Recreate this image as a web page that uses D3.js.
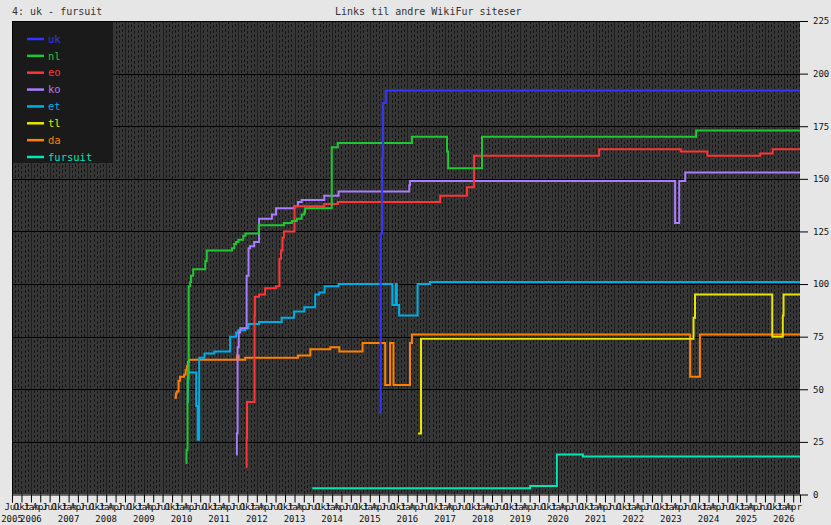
<!DOCTYPE html>
<html>
<head>
<meta charset="utf-8">
<script src="https://cdn.jsdelivr.net/npm/d3@7"></script>
<style>
  html, body { margin: 0; padding: 0; background: #e6e6e6; }
  svg { display: block; font-family: "DejaVu Sans Mono", monospace; }
</style>
</head>
<body>
<svg id="chart" width="831" height="525"></svg>
<script>
// ---------- data (decimal years, values) ----------
const seriesNames = ["uk", "nl", "eo", "ko", "et", "tl", "da", "fursuit"];
const seriesColors = ["#3434ff", "#1ec832", "#ff3434", "#aa7cff", "#00aee6", "#e6e600", "#ff8000", "#00e6b4"];

const ukYears = [2015.248, 2015.288, 2015.327, 2015.354, 2015.426];
const ukValues = [39, 124, 160, 186, 192];

const nlYears = [2010.11, 2010.13, 2010.16, 2010.19, 2010.23, 2010.25, 2010.31, 2010.63, 2010.67, 2011.34, 2011.40, 2011.45, 2011.51, 2011.64, 2011.70, 2012.05, 2012.72, 2012.93, 2013.06, 2013.19, 2013.26, 2013.28, 2013.99, 2014.15, 2016.12, 2017.05, 2017.08, 2017.98, 2023.67];
const nlValues = [15, 21, 55, 99, 101, 104, 107, 111, 116, 117, 119, 120, 121, 123, 124, 128, 129, 130, 131, 133, 134, 136, 165, 167, 170, 163, 155, 170, 173];

const eoYears = [2011.71, 2011.73, 2011.74, 2011.94, 2011.95, 2012.06, 2012.22, 2012.51, 2012.60, 2012.64, 2012.68, 2012.72, 2013.00, 2013.79, 2014.15, 2016.87, 2017.58, 2017.77, 2021.09, 2023.26, 2023.97, 2025.37, 2025.70];
const eoValues = [13, 27, 44, 85, 94, 95, 98, 99, 112, 116, 122, 125, 137, 138, 139, 142, 146, 161, 164, 163, 161, 162, 164];

const koYears = [2011.45, 2011.47, 2011.49, 2011.52, 2011.56, 2011.73, 2011.78, 2011.82, 2011.93, 2012.06, 2012.40, 2012.51, 2013.00, 2013.09, 2013.19, 2013.79, 2014.17, 2016.05, 2016.07, 2023.11, 2023.22, 2023.38];
const koValues = [19, 29, 70, 77, 79, 104, 117, 118, 120, 131, 133, 136, 137, 139, 140, 142, 144, 147, 149, 129, 149, 153];

const etYears = [2010.14, 2010.17, 2010.39, 2010.43, 2010.47, 2010.61, 2010.87, 2011.29, 2011.45, 2011.51, 2011.69, 2011.78, 2012.06, 2012.66, 2012.99, 2013.26, 2013.55, 2013.66, 2013.80, 2014.17, 2015.60, 2015.69, 2015.72, 2015.78, 2016.27, 2016.60];
const etValues = [44, 58, 42, 26, 65, 67, 68, 75, 77, 78, 79, 81, 82, 84, 87, 89, 95, 96, 99, 100, 90, 100, 90, 85, 100, 101];

const tlYears = [2016.28, 2016.36, 2023.60, 2023.64, 2025.69, 2025.97, 2025.99];
const tlValues = [29, 74, 84, 95, 75, 85, 95];

const daYears = [2009.81, 2009.85, 2009.87, 2009.92, 2009.96, 2010.07, 2010.11, 2010.14, 2010.17, 2010.20, 2011.47, 2011.52, 2011.69, 2013.09, 2013.42, 2013.95, 2014.19, 2014.81, 2015.41, 2015.54, 2015.63, 2016.07, 2016.12, 2023.51, 2023.77];
const daValues = [46, 48, 49, 54, 56, 57, 59, 61, 63, 64, 66, 64, 65, 66, 69, 70, 68, 72, 52, 72, 52, 72, 76, 56, 76];

const fursuitYears = [2013.47, 2019.26, 2019.97, 2020.66];
const fursuitValues = [3, 4, 19, 18];

const yTicks = [0, 25, 50, 75, 100, 125, 150, 175, 200, 225];
const monthNames = ["Jan", "Feb", "Mar", "Apr", "Mai", "Jun", "Jul", "Aug", "Sep", "Okt", "Nov", "Des"];
const yearLabels = [2005, 2006, 2007, 2008, 2009, 2010, 2011, 2012, 2013, 2014, 2015, 2016, 2017, 2018, 2019, 2020, 2021, 2022, 2023, 2024, 2025, 2026];
const domainStart = "2005-07-01";
const domainEnd = "2026-06-06";
const chartTitle = "Links til andre WikiFur siteser";
const cornerTitle = "4: uk - fursuit";

// ---------- helpers ----------
function fromDecimal(v) {
  const y = Math.floor(v);
  const s = new Date(y, 0, 1), e = new Date(y + 1, 0, 1);
  return new Date(+s + (v - y) * (e - s));
}
function parseDay(s) { const p = s.split("-").map(Number); return new Date(p[0], p[1] - 1, p[2]); }

const allYears = [ukYears, nlYears, eoYears, koYears, etYears, tlYears, daYears, fursuitYears];
const allValues = [ukValues, nlValues, eoValues, koValues, etValues, tlValues, daValues, fursuitValues];

// ---------- layout ----------
const L = 12, R = 800, T = 21, B = 494.5;
const svg = d3.select("#chart");
const x = d3.scaleTime().domain([parseDay(domainStart), parseDay(domainEnd)]).range([L, R]);
const y = d3.scaleLinear().domain([0, 225]).range([B, T]);

svg.append("rect").attr("width", 831).attr("height", 525).attr("fill", "#e6e6e6");

// plot background
svg.append("defs").append("clipPath").attr("id", "clip")
  .append("rect").attr("x", L).attr("y", T).attr("width", R - L).attr("height", B - T);

const plot = svg.append("g").attr("clip-path", "url(#clip)");
plot.append("rect").attr("x", L).attr("y", T).attr("width", R - L).attr("height", B - T).attr("fill", "#363636");

// textured monthly dashed verticals
const months = d3.timeMonth.range(x.domain()[0], x.domain()[1]);
plot.selectAll("line.mgrid").data(months).join("line")
  .attr("class", "mgrid")
  .attr("x1", d => Math.round(x(d)) + 0.5).attr("x2", d => Math.round(x(d)) + 0.5)
  .attr("y1", T).attr("y2", B)
  .attr("stroke", d => (d.getMonth() % 6 === 0) ? "#1e1e1e" : "#161616")
  .attr("stroke-width", 1)
  .attr("stroke-dasharray", d => (d.getMonth() % 6 === 0) ? null : "3,2")
  .attr("stroke-dashoffset", (d, i) => (i % 3));

// horizontal grid
plot.selectAll("line.hgrid").data(yTicks).join("line")
  .attr("class", "hgrid")
  .attr("x1", L).attr("x2", R)
  .attr("y1", d => Math.round(y(d)) + 0.5).attr("y2", d => Math.round(y(d)) + 0.5)
  .attr("stroke", "#000").attr("stroke-width", 1.2);

// top/left border
svg.append("line").attr("x1", L).attr("x2", R).attr("y1", T + 0.5).attr("y2", T + 0.5).attr("stroke", "#000");
svg.append("line").attr("x1", L + 0.5).attr("x2", L + 0.5).attr("y1", T).attr("y2", B).attr("stroke", "#000");

// series lines (reverse order so first legend item is on top)
const line = d3.line().curve(d3.curveStepAfter).x(d => x(d[0])).y(d => y(d[1]));
const endDate = x.domain()[1];
for (let i = seriesNames.length - 1; i >= 0; i--) {
  const pts = allYears[i].map((t, j) => [fromDecimal(t), allValues[i][j]]);
  pts.push([endDate, allValues[i][allValues[i].length - 1]]);
  plot.append("path").datum(pts)
    .attr("d", line)
    .attr("fill", "none")
    .attr("stroke", seriesColors[i])
    .attr("stroke-width", 2);
}

// legend
const lg = svg.append("g");
lg.append("rect").attr("x", L + 1).attr("y", T + 1).attr("width", 100).attr("height", 141).attr("fill", "#1a1a1a");
const ly = d3.scalePoint().domain(seriesNames).range([39, 157]);
seriesNames.forEach((n, i) => {
  lg.append("line").attr("x1", 27).attr("x2", 44).attr("y1", ly(n)).attr("y2", ly(n))
    .attr("stroke", seriesColors[i]).attr("stroke-width", 2.5);
  lg.append("text").attr("x", 48).attr("y", ly(n)).attr("dy", "0.35em")
    .attr("fill", seriesColors[i]).attr("font-size", 10.5).text(n);
});

// y axis (right)
const yAxis = svg.append("g").attr("transform", `translate(${R},0)`)
  .call(d3.axisRight(y).tickValues(yTicks).tickSize(8).tickPadding(5));
yAxis.select(".domain").remove();
yAxis.selectAll("line").attr("stroke", "#000");
yAxis.selectAll("text").attr("font-size", 9).attr("fill", "#111").attr("font-family", "DejaVu Sans Mono");

// x axis: quarterly month ticks
const xAxis = svg.append("g").attr("transform", `translate(0,${B})`)
  .call(d3.axisBottom(x).ticks(d3.timeMonth.every(3)).tickSize(8).tickPadding(1)
    .tickFormat(d => monthNames[d.getMonth()]));
xAxis.select(".domain").attr("stroke", "#000");
xAxis.selectAll("line").attr("stroke", "#000");
xAxis.selectAll("text").attr("font-size", 9).attr("fill", "#111").attr("font-family", "DejaVu Sans Mono");

// year labels
const yearDates = yearLabels.map(yv => yv === 2005 ? x.domain()[0] : new Date(yv, 0, 1));
const yg = svg.append("g");
yg.selectAll("text").data(yearDates).join("text")
  .attr("x", (d, i) => Math.max(x(d), 11))
  .attr("y", B + 27)
  .attr("text-anchor", "middle")
  .attr("font-size", 9).attr("fill", "#111")
  .text((d, i) => yearLabels[i]);

// titles
svg.append("text").attr("x", 12).attr("y", 15).attr("font-size", 10).attr("fill", "#333").text(cornerTitle);
svg.append("text").attr("x", 335).attr("y", 15).attr("font-size", 10).attr("fill", "#333").text(chartTitle);
</script>
</body>
</html>
